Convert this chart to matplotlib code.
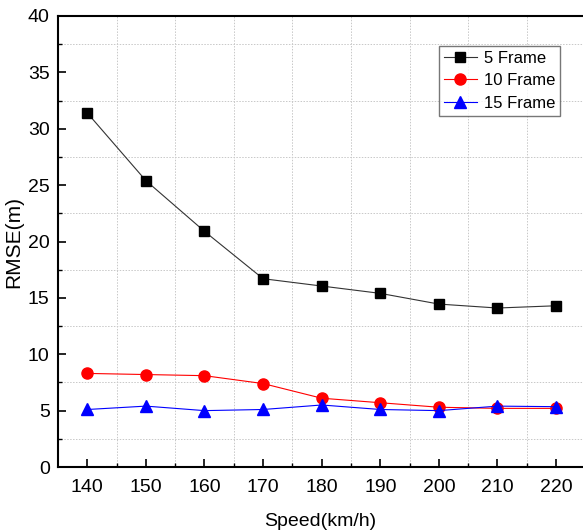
import matplotlib
matplotlib.use('Agg')
import matplotlib.pyplot as plt
from matplotlib.ticker import MultipleLocator, FixedLocator

speed = [140, 150, 160, 170, 180, 190, 200, 210, 220]
rmse_5 = [31.4, 25.4, 20.9, 16.7, 16.05, 15.4, 14.45, 14.1, 14.3]
rmse_10 = [8.3, 8.2, 8.1, 7.4, 6.1, 5.7, 5.3, 5.2, 5.2]
rmse_15 = [5.1, 5.4, 5.0, 5.1, 5.5, 5.1, 5.0, 5.4, 5.35]

plt.rcParams['font.family'] = ['Liberation Sans', 'DejaVu Sans']

fig = plt.figure(figsize=(5.83, 5.30), dpi=100)
ax = fig.add_axes([58/583, 63/530, 525/583, 451/530])

ax.plot(speed, rmse_5, color='#333333', lw=0.8, marker='s', ms=7,
        mfc='black', mec='black', label='5 Frame')
ax.plot(speed, rmse_10, color='red', lw=0.8, marker='o', ms=8,
        mfc='red', mec='red', label='10 Frame')
ax.plot(speed, rmse_15, color='blue', lw=0.8, marker='^', ms=8,
        mfc='blue', mec='blue', label='15 Frame')

ax.set_xlim(135, 224.6)
ax.set_ylim(0, 40)
ax.xaxis.set_major_locator(MultipleLocator(10))
ax.yaxis.set_major_locator(MultipleLocator(5))
# Origin-style: grid only on the in-between positions
ax.xaxis.set_minor_locator(FixedLocator([145, 155, 165, 175, 185, 195, 205, 215]))
ax.yaxis.set_minor_locator(FixedLocator([2.5, 7.5, 12.5, 17.5, 22.5, 27.5, 32.5, 37.5]))

ax.grid(which='minor', color='#c8c8c8', ls=(0, (1.5, 1.5)), lw=0.7)
ax.grid(which='major', visible=False)

ax.tick_params(which='major', direction='in', length=6, width=1.2, labelsize=14)
ax.tick_params(axis='x', which='major', pad=9)
ax.tick_params(axis='y', which='major', pad=6)
ax.tick_params(which='minor', direction='in', length=3, width=1.0)
ax.tick_params(top=False, right=False)

for s in ['left', 'bottom', 'top']:
    ax.spines[s].set_linewidth(1.5)
ax.spines['right'].set_visible(False)

ax.set_xlabel('Speed(km/h)', fontsize=14, labelpad=12)
ax.set_ylabel('RMSE(m)', fontsize=15, labelpad=3)

leg = ax.legend(loc='upper right', bbox_to_anchor=(0.956, 0.934), fontsize=12,
                frameon=True, fancybox=False, handlelength=2.0,
                borderpad=0.3, labelspacing=0.45, handletextpad=0.4,
                borderaxespad=0)
leg.get_frame().set_edgecolor('#555555')
leg.get_frame().set_linewidth(1.0)

plt.savefig('out.png', dpi=100)
plt.close()
